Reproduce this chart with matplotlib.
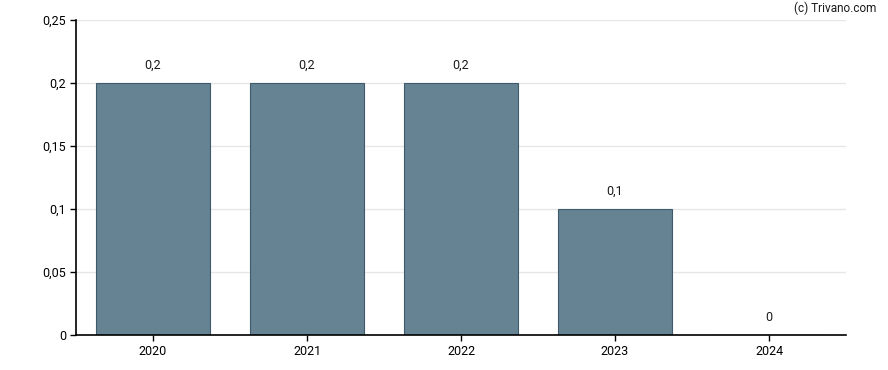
import matplotlib.pyplot as plt

years = ["2020", "2021", "2022", "2023", "2024"]
values = [0.2, 0.2, 0.2, 0.1, 0.0]
value_labels = ["0,2", "0,2", "0,2", "0,1", "0"]
y_ticks = [0, 0.05, 0.1, 0.15, 0.2, 0.25]
y_tick_labels = ["0", "0,05", "0,1", "0,15", "0,2", "0,25"]

plt.rcParams["font.family"] = ["Roboto", "DejaVu Sans"]

fig = plt.figure(figsize=(8.88, 3.7), dpi=100)
ax = fig.add_axes([76 / 888, 35 / 370, 770 / 888, 315 / 370])

x = list(range(len(years)))
ax.bar(x, values, width=0.74, color="#668394", edgecolor="#3f5a6b", linewidth=0.8, zorder=2)

for xi, v, lab in zip(x, values, value_labels):
    ax.annotate(lab, (xi, v), xytext=(0, 8), textcoords="offset points",
                ha="center", va="bottom", fontsize=9, color="#1a1a1a")

ax.set_xlim(-0.5, len(years) - 0.5)
ax.set_ylim(0, 0.25)
ax.set_xticks(x)
ax.set_xticklabels(years, fontsize=9)
ax.set_yticks(y_ticks)
ax.set_yticklabels(y_tick_labels, fontsize=9)
ax.tick_params(axis="both", length=4, width=1, color="black", pad=3)

ax.grid(axis="y", color="#e6e6e6", linewidth=1, zorder=0)
ax.set_axisbelow(True)
for side in ["top", "right"]:
    ax.spines[side].set_visible(False)
ax.spines["left"].set_linewidth(1.2)
ax.spines["bottom"].set_linewidth(1.2)

fig.text(876 / 888, 1 - 8 / 370, "(c) Trivano.com", ha="right", va="center", fontsize=8.5, color="#1a1a1a")

fig.savefig("out.png", dpi=100)
